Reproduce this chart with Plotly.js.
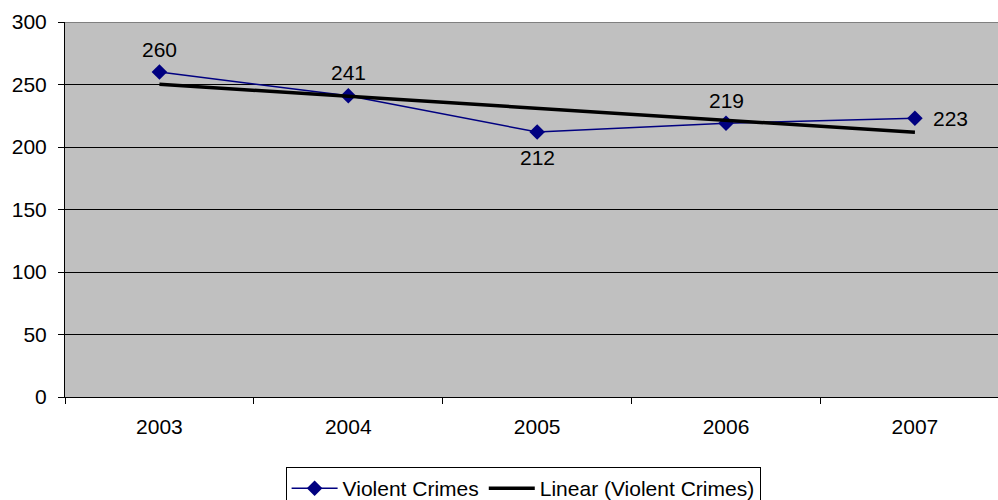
<!DOCTYPE html>
<html>
<head>
<meta charset="utf-8">
<script src="https://cdn.plot.ly/plotly-3.0.1.min.js"></script>
<style>html,body{margin:0;padding:0;background:#fff;}#chart{width:998px;height:500px;}</style>
</head>
<body>
<div id="chart"></div>
<script>
const years = ['2003', '2004', '2005', '2006', '2007'];
const violentCrimes = [260, 241, 212, 219, 223];
const trendValues = [250.2, 240.6, 231.0, 221.4, 211.8];
const yTicks = [0, 50, 100, 150, 200, 250, 300];
const labelShiftY = [23, 23, -25, 23, 0];
const labelShiftX = [0, 0, 0, 0, 16];
const labelAnchor = ['center', 'center', 'center', 'center', 'left'];

const FAMILY = 'Arial, "Liberation Sans", sans-serif';
function mkFont() { return {family: FAMILY, size: 21, color: '#000000'}; }

const traces = [
  {
    x: years, y: violentCrimes, type: 'scatter', mode: 'lines+markers',
    name: 'Violent Crimes',
    line: {color: '#000080', width: 1.5},
    marker: {symbol: 'diamond', size: 12, color: '#000080', line: {width: 0}},
    cliponaxis: false
  },
  {
    x: years, y: trendValues, type: 'scatter', mode: 'lines',
    name: 'Linear (Violent Crimes)',
    line: {color: '#000000', width: 3.5}
  }
];

const annotations = [];
for (let i = 0; i < years.length; i++) {
  annotations.push({
    x: i, y: violentCrimes[i], xref: 'x', yref: 'y',
    text: String(violentCrimes[i]), showarrow: false,
    xanchor: labelAnchor[i], yanchor: 'middle',
    xshift: labelShiftX[i], yshift: labelShiftY[i],
    font: mkFont()
  });
}

const layout = {
  width: 998, height: 500,
  margin: {l: 65, r: 0, t: 22, b: 103, autoexpand: false},
  paper_bgcolor: '#ffffff', plot_bgcolor: '#C0C0C0',
  font: mkFont(),
  showlegend: true,
  legend: {
    orientation: 'h', x: 0.491, xanchor: 'center', y: -0.187, yanchor: 'top',
    bordercolor: '#000', borderwidth: 1, bgcolor: '#fff',
    font: mkFont(), traceorder: 'normal', itemwidth: 46
  },
  xaxis: {
    type: 'category', range: [-0.5, 4.44],
    showgrid: false, zeroline: false,
    showline: true, linecolor: '#000', linewidth: 1,
    ticks: 'outside', tickson: 'boundaries', ticklen: 6, tickcolor: '#000',
    ticklabelstandoff: 11,
    tickfont: mkFont()
  },
  yaxis: {
    range: [0, 300], tickvals: yTicks, ticktext: yTicks.map(String),
    showgrid: true, gridcolor: '#000', gridwidth: 1,
    zeroline: false,
    showline: true, linecolor: '#000', linewidth: 1,
    ticks: 'outside', ticklen: 6, tickcolor: '#000',
    ticklabelstandoff: 7,
    tickfont: mkFont()
  },
  shapes: [
    {type: 'line', xref: 'paper', yref: 'y', x0: 0, x1: 1, y0: 300, y1: 300,
     line: {color: '#808080', width: 2}}
  ],
  annotations: annotations
};

Plotly.newPlot('chart', traces, layout, {displayModeBar: false, staticPlot: true});
</script>
</body>
</html>
